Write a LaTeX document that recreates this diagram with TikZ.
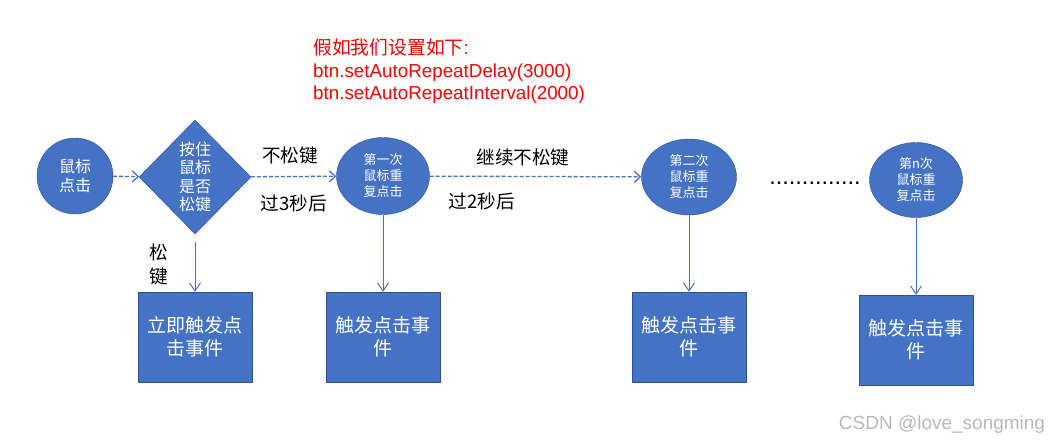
\documentclass[tikz,border=0pt]{standalone}
\usepackage{fontspec}
\setmainfont{Liberation Sans}
\newfontfamily\cjk{Noto Sans CJK SC}
\usetikzlibrary{arrows.meta,shapes.geometric}
\definecolor{fillblue}{HTML}{4472C4}
\definecolor{edgeblue}{HTML}{2F528F}
\definecolor{lineblue}{HTML}{4472C4}

\begin{document}
\begin{tikzpicture}[x=1pt,y=-1pt,
      el/.style={ellipse, draw=edgeblue, fill=fillblue, text=white, inner sep=0pt,
      align=center, font=\cjk\fontsize{13}{16}\selectfont},
      box/.style={draw=edgeblue, fill=fillblue, text=white, minimum width=114pt,
      minimum height=90pt, align=center, font=\cjk\fontsize{19}{23}\selectfont},
      lab/.style={inner sep=0pt, align=center, font=\cjk\fontsize{18.6}{24}\selectfont},
      dsh/.style={draw=lineblue, line width=1.3pt, dash pattern=on 4pt off 2pt,
      -{Straight Barb[length=6pt,width=11pt]}},
      ln/.style={draw=lineblue, line width=1pt, -{Straight Barb[length=8pt,width=11pt]}}]
    \useasboundingbox (0,0) rectangle (1051,441);
    % settings note
    \node[inner sep=0pt, anchor=north west, align=left, text=red,
      font=\fontsize{18.8}{22.5}\selectfont] (note) at (313,39)
      {{\cjk 假如我们设置如下}:\\btn.setAutoRepeatDelay(3000)\\btn.setAutoRepeatInterval(2000)};
    % top row
    \node[el, minimum width=76pt, minimum height=76pt,
      font=\cjk\fontsize{16}{19}\selectfont] (click) at (75,176) {鼠标\\点击};
    \node[diamond, aspect=1, draw=edgeblue, fill=fillblue, text=white, inner sep=0pt,
      minimum width=112pt, minimum height=114pt, align=center,
      font=\cjk\fontsize{16}{18.5}\selectfont] (ask) at (195,177) {按住\\鼠标\\是否\\松键};
    \node[el, minimum width=93pt, minimum height=77pt] (rep1) at (383,176) {第一次\\鼠标重\\复点击};
    \node[el, minimum width=95pt, minimum height=76pt] (rep2) at (689,177) {第二次\\鼠标重\\复点击};
    \node[el, minimum width=93pt, minimum height=75pt] (repn) at (916,180) {第n次\\鼠标重\\复点击};
    \node[inner sep=0pt, font=\fontsize{23.5}{24}\selectfont] (dots) at (815,183) {..............};
    % bottom row
    \node[box] (now) at (195,337) {立即触发点\\击事件};
    \node[box] (ev1) at (383,337) {触发点击事\\件};
    \node[box] (ev2) at (689,337) {触发点击事\\件};
    \node[box] (evn) at (916,340) {触发点击事\\件};
    % arrows
    \draw[dsh] (click) -- (ask);
    \draw[dsh] (ask) -- (rep1);
    \draw[dsh] (rep1) -- (rep2);
    \draw[ln, shorten <=8pt] (ask) -- (now);
    \draw[ln] (rep1) -- (ev1);
    \draw[ln] (rep2) -- (ev2);
    \draw[ln] (repn) -- (evn);
    % labels
    \node[lab] (keep) at (290,155) {不松键};
    \node[lab] (wait3) at (294,203) {过3秒后};
    \node[lab] (rel) at (159,264) {松\\键};
    \node[lab] (keep2) at (523,157) {继续不松键};
    \node[lab] (wait2) at (482,201) {过2秒后};
    \node[inner sep=0pt, text=gray!55, font=\fontsize{19}{20}\selectfont] (mark) at (942,425)
      {CSDN @love\_songming};
  \end{tikzpicture}
\end{document}
